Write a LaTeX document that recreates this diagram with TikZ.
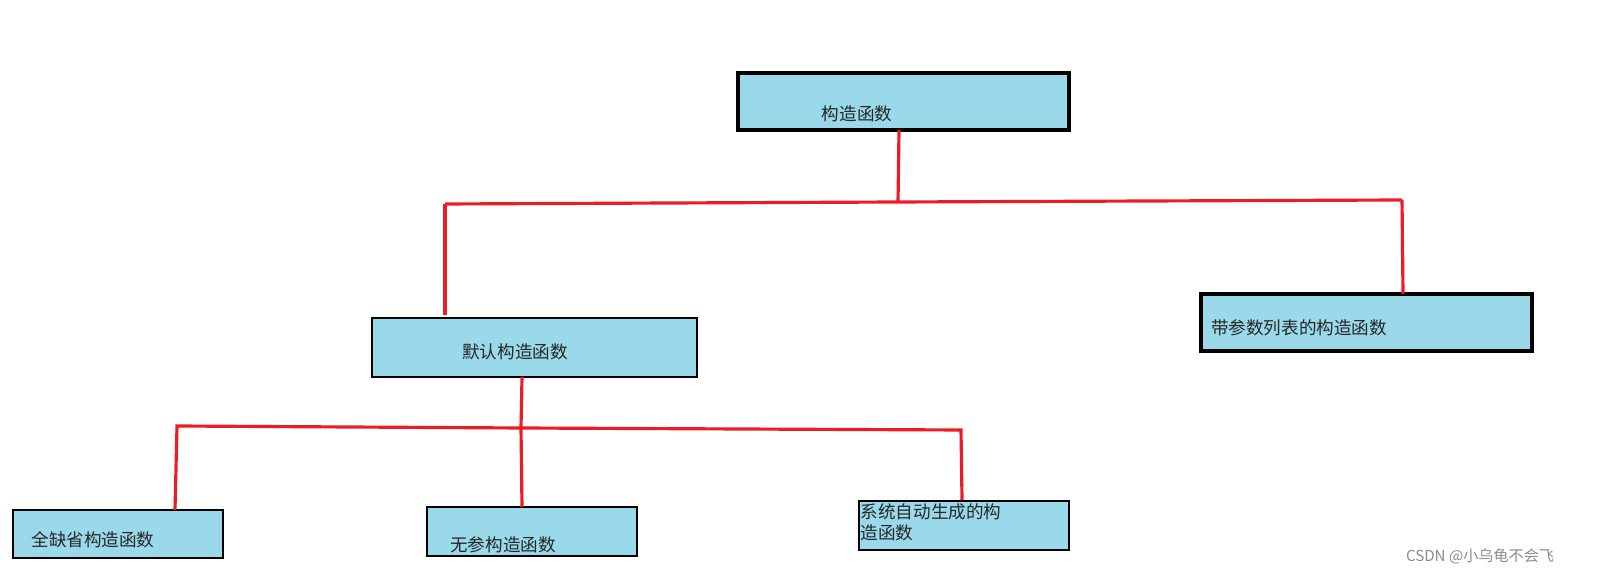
\documentclass[tikz,border=0pt]{standalone}
\usepackage{fontspec}
\setmainfont{Noto Sans CJK SC}
\begin{document}
\begin{tikzpicture}[x=0.01cm,y=-0.01cm,
  box/.style={draw=black,fill=boxfill,line width=0.5pt},
  thickbox/.style={draw=black,fill=boxfill,line width=1.1pt},
  lbl/.style={font=\fontsize{5}{6}\selectfont,text=black!85,inner sep=0pt},
  red/.style={draw=redline,line width=0.9pt}]
\definecolor{boxfill}{HTML}{99D9EA}
\definecolor{redline}{HTML}{ED1C24}
\useasboundingbox[fill=white] (0,0) rectangle (1601,586);
% boxes
\draw[thickbox] (738,73) rectangle (1069,130);
\node[lbl] (top) at (857,114) {构造函数};
\draw[box] (372,318) rectangle (697,377);
\node[lbl] (def) at (515,352) {默认构造函数};
\draw[thickbox] (1201,294) rectangle (1532,351);
\node[lbl] (param) at (1299,328) {带参数列表的构造函数};
\draw[box] (13,510) rectangle (223,558);
\node[lbl] (b1) at (93,540) {全缺省构造函数};
\draw[box] (427,507) rectangle (637,556);
\node[lbl] (b2) at (503,545) {无参构造函数};
\draw[box] (859,501) rectangle (1069,550);
\node[lbl,anchor=north west,align=left] (b3) at (860,503) {系统自动生成的构\\造函数};
% connector points
\coordinate (tb) at (899,130);
\coordinate (tj) at (898,202);
\coordinate (tl) at (445,204);
\coordinate (tr) at (1402,200);
\coordinate (dt) at (445,315);
\coordinate (pt) at (1403,294);
\coordinate (db) at (522,377);
\coordinate (dj) at (521,428);
\coordinate (bl) at (177,426);
\coordinate (br) at (961,430);
\coordinate (b1t) at (175,510);
\coordinate (b2t) at (522,507);
\coordinate (b3t) at (962,500);
\draw[red] (tb) -- (tj);
\draw[red] (tl) -- (tj) -- (tr);
\draw[red] (tl) -- (dt);
\draw[red] (tr) -- (pt);
\draw[red] (db) -- (dj) -- (b2t);
\draw[red] (b1t) -- (bl) -- (dj) -- (br) -- (b3t);
\node[font=\fontsize{4.3}{5}\selectfont,text=black!45,inner sep=0pt] (wm) at (1480,556) {CSDN @小乌龟不会飞};
\end{tikzpicture}
\end{document}
